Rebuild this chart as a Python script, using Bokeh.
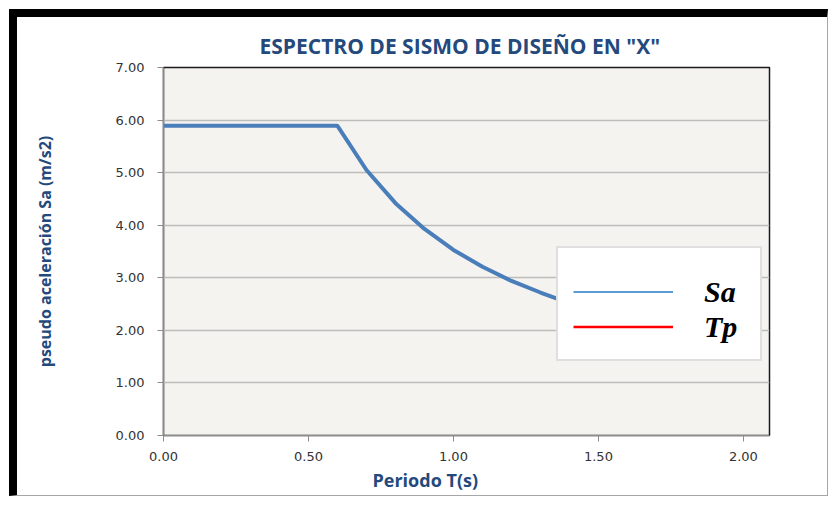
from bokeh.plotting import figure
from bokeh.models import (Range1d, FixedTicker, NumeralTickFormatter, Legend,
                          LegendItem, Title)
from bokeh.embed import file_html
from bokeh.resources import INLINE

nan = float("nan")

# Spectrum data: period T (s) and pseudo acceleration Sa (m/s2)
periodo = [0.00, 0.10, 0.20, 0.30, 0.40, 0.50, 0.60, 0.70, 0.80, 0.90, 1.00,
           1.10, 1.20, 1.30, 1.40, 1.50, 1.60, 1.70, 1.80, 1.90, 2.00]
sa = [5.89, 5.89, 5.89, 5.89, 5.89, 5.89, 5.89, 5.05, 4.42, 3.93, 3.53,
      3.21, 2.94, 2.72, 2.52, 2.36, 2.21, 2.08, 1.96, 1.86, 1.77]

# Tp series (no points inside the plotted window)
tp_x = [nan]
tp_y = [nan]

x_ticks = [0.0, 0.5, 1.0, 1.5, 2.0]
y_ticks = [0, 1, 2, 3, 4, 5, 6, 7]

BLUE_TXT = "#24497c"
TEXT_FONT = "Open Sans"

p = figure(width=819, height=487, output_backend="svg", toolbar_location=None,
           x_range=Range1d(0, 2.09), y_range=Range1d(0, 7),
           min_border_left=146, min_border_right=67,
           min_border_top=50, min_border_bottom=69)

# page frame: heavy black edge on the top and left, thin grey on the others
p.styles = {
    "margin-left": "9px",
    "margin-top": "9px",
    "border-left": "8px solid black",
    "border-top": "8px solid black",
    "border-right": "1px solid #a6a6a6",
    "border-bottom": "1px solid #a6a6a6",
}

p.background_fill_color = "#f4f3ef"
p.border_fill_color = "white"
p.outline_line_color = "#1a1a1a"
p.outline_line_width = 1.5

title = Title(text='ESPECTRO DE SISMO DE DISEÑO EN "X"', align="left",
              text_font=TEXT_FONT, text_font_style="bold",
              text_font_size="21px", text_color=BLUE_TXT,
              standoff=15, offset=96)
p.add_layout(title, "above")

# axes
for ax in (p.xaxis[0], p.yaxis[0]):
    ax.axis_line_color = "#8c8c8c"
    ax.axis_line_width = 1.2
    ax.major_tick_line_color = "#8c8c8c"
    ax.major_tick_in = 0
    ax.major_tick_out = 6
    ax.minor_tick_line_color = None
    ax.major_label_text_font = "DejaVu Sans"
    ax.major_label_text_font_size = "13px"
    ax.major_label_text_color = "#333333"
    ax.formatter = NumeralTickFormatter(format="0.00")

p.xaxis.ticker = FixedTicker(ticks=x_ticks)
p.yaxis.ticker = FixedTicker(ticks=y_ticks)
p.xaxis.major_label_standoff = 10
p.yaxis.major_label_standoff = 13

p.yaxis.axis_label = "pseudo aceleración Sa (m/s2)"
p.yaxis.axis_label_text_font = TEXT_FONT
p.yaxis.axis_label_text_font_style = "bold"
p.yaxis.axis_label_text_color = BLUE_TXT
p.yaxis.axis_label_text_font_size = "16px"
p.yaxis.axis_label_standoff = 57

# x axis caption sits left of the frame centre
xlabel = Title(text="Periodo T(s)", align="left", text_font=TEXT_FONT,
               text_font_style="bold", text_font_size="18px",
               text_color=BLUE_TXT, offset=209, standoff=4)
p.add_layout(xlabel, "below")

p.xgrid.grid_line_color = None
p.ygrid.grid_line_color = "#bdbdbd"
p.ygrid.grid_line_width = 1.5

sa_line = p.line(periodo, sa, line_color="#4a7ebb", line_width=4)
# thin keys for the legend entries
sa_key = p.line(tp_x, tp_y, line_color="#5b9bd5", line_width=2)
tp_line = p.line(tp_x, tp_y, line_color="#ff0000", line_width=2.5)

legend = Legend(items=[LegendItem(label="Sa", renderers=[sa_key]),
                       LegendItem(label="Tp", renderers=[tp_line])],
                location=(393, 74), orientation="vertical",
                glyph_width=100, glyph_height=35, label_height=35,
                label_width=41, label_standoff=31, spacing=0, padding=15,
                label_text_font="Liberation Serif",
                label_text_font_style="bold italic",
                label_text_font_size="30px", label_text_color="black",
                border_line_color="#bfbfbf", border_line_width=2.5,
                background_fill_color="white", background_fill_alpha=1.0)
legend.title = " "
legend.title_text_font_size = "10px"
legend.title_standoff = 0
p.add_layout(legend, "center")

open("out.html", "w").write(file_html(p, INLINE))
